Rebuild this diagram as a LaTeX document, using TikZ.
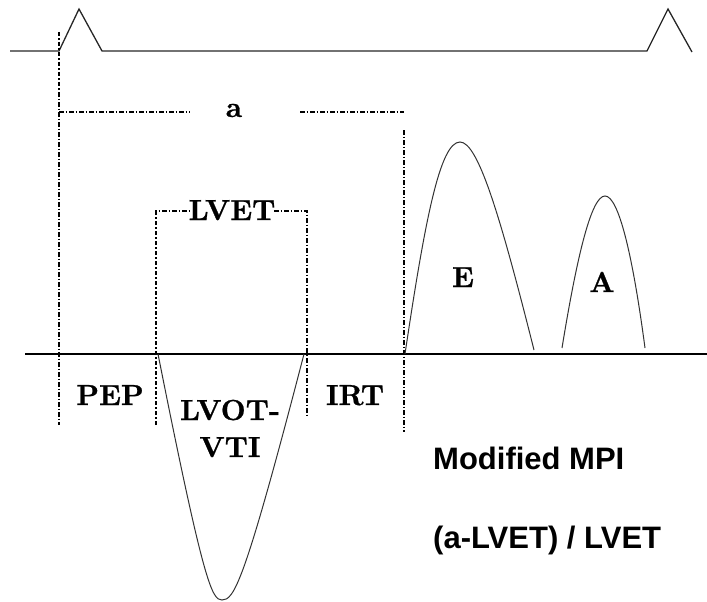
\documentclass[tikz,border=0pt]{standalone}
\usepackage{fontspec}
\newfontfamily\arialbold{Liberation Sans}[BoldFont={* Bold}]
\newfontfamily\lbf{lmroman10-bold}[Extension=.otf, FakeBold=0.8]
\begin{document}
\begin{tikzpicture}[x=1pt,y=-1pt,
  ecg/.style={line width=1.3pt,black!85},
  dashdot/.style={line width=2.2pt,black,dash pattern=on 4.5pt off 2pt on 1.5pt off 2pt},
  wave/.style={line width=1pt,black!80},
  lbl/.style={font=\lbf\fontsize{29}{33}\selectfont,anchor=base,inner sep=0pt},
  note/.style={font=\arialbold\fontsize{31}{36}\selectfont\bfseries,anchor=base west,inner sep=0pt}]
\useasboundingbox (0,0) rectangle (707,602);
% ECG trace
\draw[ecg] (10,51) -- (59,51) -- (79,9) -- (102,51) -- (647,51) -- (668,9) -- (692,52);
% baseline
\draw[line width=1.3pt] (25,354) -- (707,354);
% interval "a"
\draw[dashdot] (59,32) -- (59,425);
\draw[dashdot] (59,112) -- (190,112);
\draw[dashdot] (300,112) -- (404,112);
\draw[dashdot] (404,130) -- (404,432);
\node[lbl] (a) at (234,117) {a};
% LVET bracket
\draw[dashdot] (156,425) -- (156,211) -- (190,211);
\draw[dashdot] (274,211) -- (307,211) -- (307,418);
\node[lbl] (lvet) at (232,220) {LVET};
% LVOT-VTI wave
\draw[wave] (158,354) .. controls (204,585) and (212,600) .. (222,600)
            .. controls (234,600) and (244,585) .. (304,354);
% E wave
\draw[wave] (405,354) .. controls (425,220) and (440,142) .. (460,142)
            .. controls (478,142) and (500,215) .. (534,350);
% A wave
\draw[wave] (562,348) .. controls (578,250) and (592,196) .. (605,196)
            .. controls (618,196) and (632,250) .. (645,348);
% labels
\node[lbl] (e) at (463,287) {E};
\node[lbl] (aw) at (602,292) {A};
\node[lbl] (pep) at (110,405) {PEP};
\node[lbl] (irt) at (355,405) {IRT};
\node[lbl] (lvot) at (230,420) {LVOT-};
\node[lbl] (vti) at (230,457) {VTI};
\node[note] (mpi) at (433,469) {Modified MPI};
\node[note] (form) at (433,548) {(a-LVET) / LVET};
\end{tikzpicture}
\end{document}
